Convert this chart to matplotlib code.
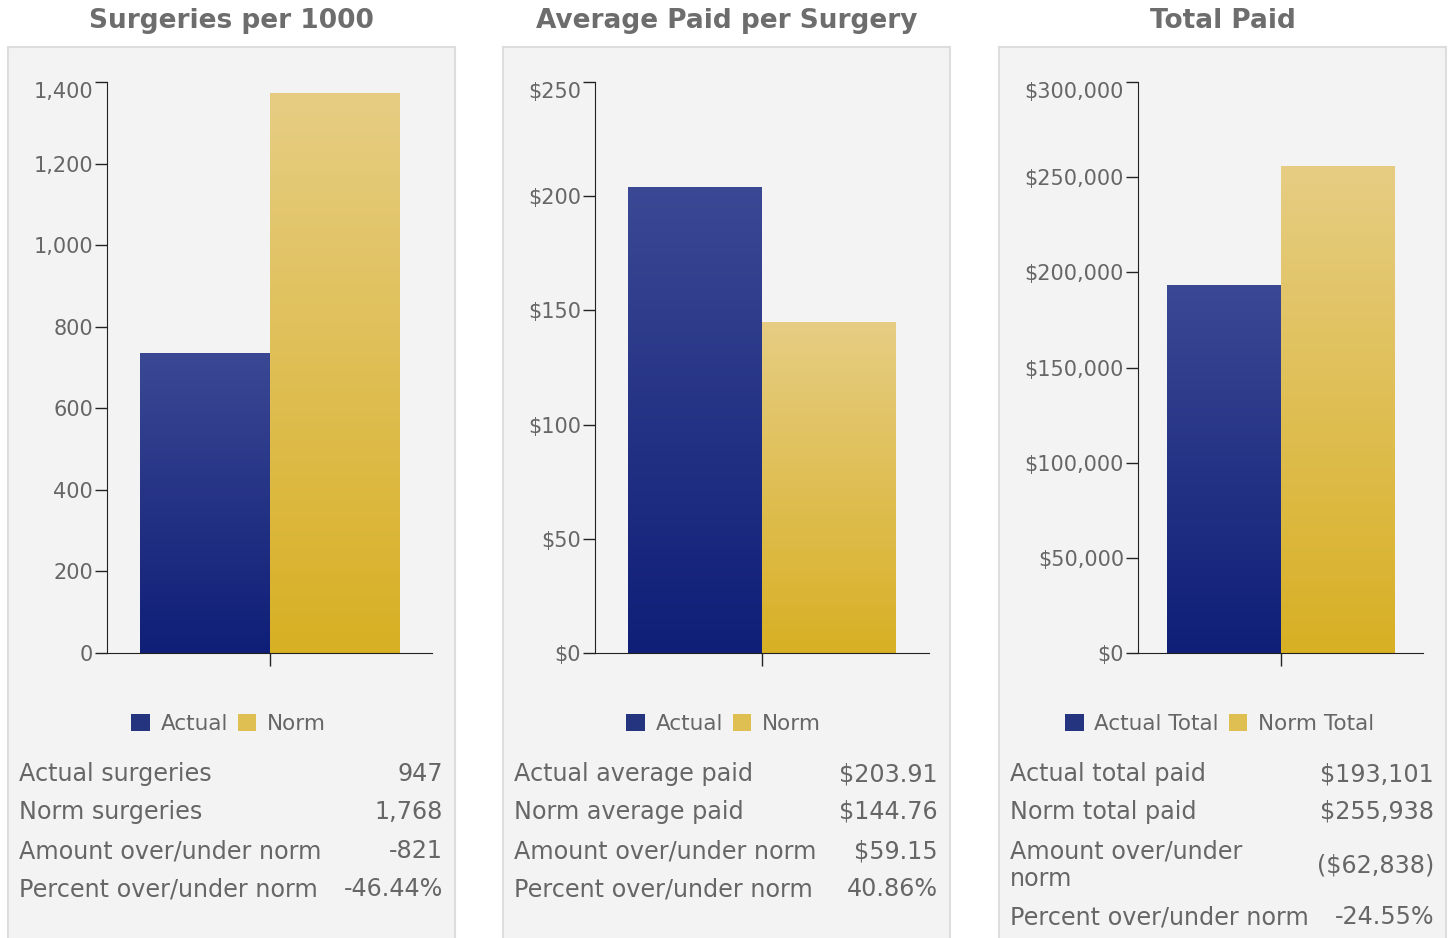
import numpy as np
import matplotlib
matplotlib.use('Agg')
import matplotlib.pyplot as plt
from matplotlib.patches import Rectangle, Patch
from matplotlib.colors import LinearSegmentedColormap
from matplotlib.ticker import FuncFormatter

# data
titles = ['Surgeries per 1000', 'Average Paid per Surgery', 'Total Paid']
actual_vals = [736, 203.91, 193101]
norm_vals = [1374, 144.76, 255938]
y_max = [1400, 250, 300000]
y_step = [200, 50, 50000]
money = [False, True, True]
legend_labels = [['Actual', 'Norm'], ['Actual', 'Norm'], ['Actual Total', 'Norm Total']]
table_labels = [
    ['Actual surgeries', 'Norm surgeries', 'Amount over/under norm', 'Percent over/under norm'],
    ['Actual average paid', 'Norm average paid', 'Amount over/under norm', 'Percent over/under norm'],
    ['Actual total paid', 'Norm total paid', 'Amount over/under\nnorm', 'Percent over/under norm'],
]
table_values = [
    ['947', '1,768', '-821', '-46.44%'],
    ['$203.91', '$144.76', '$59.15', '40.86%'],
    ['$193,101', '$255,938', '($62,838)', '-24.55%'],
]

W, H = 1450, 938
fig = plt.figure(figsize=(W / 100, H / 100), dpi=100)
fig.patch.set_facecolor('white')
plt.rcParams['font.family'] = ['DejaVu Sans']

def fx(x):
    return x / W

def fy(y):
    return 1 - y / H

grey = '#666666'
blue_cm = LinearSegmentedColormap.from_list('b', ['#3b4894', '#0f1e77'])
gold_cm = LinearSegmentedColormap.from_list('g', ['#e6cd83', '#d8b024'])

# panel geometry in pixels
panel_left = [8, 503, 999]
panel_w = 447
ax_left = [107, 595, 1138]
ax_right = [432, 929, 1423]
ax_top, ax_bottom = 82, 653

for i in range(3):
    # panel box
    fig.patches.append(Rectangle((fx(panel_left[i]), fy(945)), panel_w / W, (945 - 47) / H,
                                 transform=fig.transFigure, facecolor='#f3f3f3',
                                 edgecolor='#dddddd', lw=1.5, zorder=-5))
    cx = panel_left[i] + panel_w / 2
    fig.text(fx(cx), fy(21), titles[i], ha='center', va='center', fontsize=19,
             fontweight='bold', color='#6d6d6d')

    ax = fig.add_axes([fx(ax_left[i]), fy(ax_bottom), (ax_right[i] - ax_left[i]) / W,
                       (ax_bottom - ax_top) / H])
    ax.patch.set_alpha(0)
    for s in ['top', 'right']:
        ax.spines[s].set_visible(False)
    ax.spines['left'].set_color('#222222')
    ax.spines['bottom'].set_color('#222222')

    bars = ax.bar([-0.2, 0.2], [actual_vals[i], norm_vals[i]], width=0.4, color='none')
    grad = np.linspace(0, 1, 256).reshape(-1, 1)
    for b, cm in zip(bars, [blue_cm, gold_cm]):
        x0, h = b.get_x(), b.get_height()
        im = ax.imshow(grad, cmap=cm, aspect='auto', extent=(x0, x0 + b.get_width(), 0, h),
                       origin='upper', zorder=1)
        im.set_clip_path(b)

    ax.set_xlim(-0.5, 0.5)
    ax.set_ylim(0, y_max[i])
    ax.set_xticks([0])
    ax.set_xticklabels([''])
    ax.set_yticks(np.arange(0, y_max[i] + 1, y_step[i]))
    if money[i]:
        ax.yaxis.set_major_formatter(FuncFormatter(lambda v, p: '${:,.0f}'.format(v)))
    else:
        ax.yaxis.set_major_formatter(FuncFormatter(lambda v, p: '{:,.0f}'.format(v)))
    ax.tick_params(axis='both', length=9, width=1, color='#222222', labelcolor=grey,
                   labelsize=15, pad=1)
    # top label sits a little lower in the original
    ax.get_yticklabels()[-1].set_va('top')

    ax.legend(handles=[Patch(facecolor='#25347f', label=legend_labels[i][0]),
                       Patch(facecolor='#dfbf52', label=legend_labels[i][1])],
              loc='center', bbox_to_anchor=(fx(cx - 3), fy(724)),
              bbox_transform=fig.transFigure, ncol=2,
              frameon=False, fontsize=15.5, labelcolor=grey, handlelength=0.85,
              handleheight=0.85, handletextpad=0.5, columnspacing=0.45)

    # summary table
    lx = panel_left[i] + 11
    rx = panel_left[i] + 435
    rows_y = [774, 812, 851, 889] if i < 2 else [774, 812, 865, 917]
    for lab, val, yy in zip(table_labels[i], table_values[i], rows_y):
        fig.text(fx(lx), fy(yy), lab, ha='left', va='center', fontsize=17.2, color=grey,
                 linespacing=1.2)
        fig.text(fx(rx), fy(yy), val, ha='right', va='center', fontsize=17.2, color=grey)

fig.savefig('out.png', dpi=100)
